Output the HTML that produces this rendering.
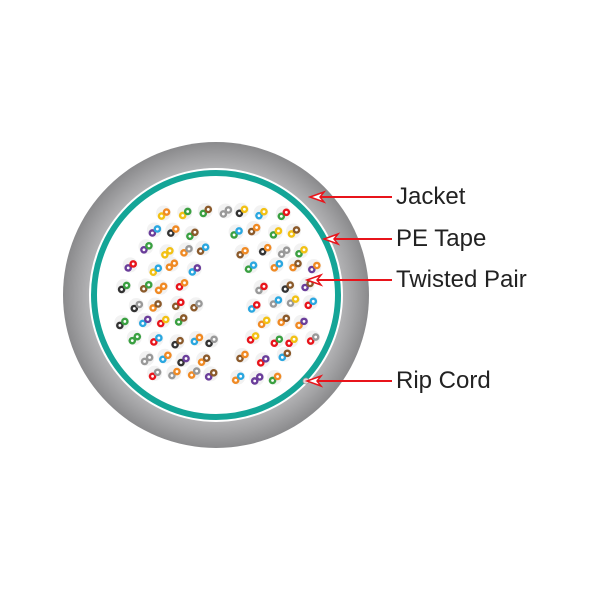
<!DOCTYPE html>
<html><head><meta charset="utf-8"><style>
html,body{margin:0;padding:0;background:#fff;width:600px;height:600px;overflow:hidden}
text{font-family:"Liberation Sans",sans-serif;fill:#222;font-size:24px}
</style></head><body>
<svg id="s" width="600" height="600" viewBox="0 0 600 600">
<defs>
<radialGradient id="g" cx="216" cy="295" r="153" gradientUnits="userSpaceOnUse">
<stop offset="0.82" stop-color="#b4b4b6"/><stop offset="0.9" stop-color="#a2a2a4"/><stop offset="1" stop-color="#8a8a8c"/>
</radialGradient>
</defs>
<circle cx="216" cy="295" r="153" fill="url(#g)"/>
<circle cx="216" cy="295" r="127" fill="#fff"/>
<circle cx="216" cy="295" r="122" fill="none" stroke="#14a597" stroke-width="6"/>
<g id="p"></g>
<circle cx="306" cy="381" r="3" fill="#ddd" stroke="#999" stroke-width="0.8"/>
<g stroke="#e8141b" stroke-width="2" fill="#fff">
<line x1="312" y1="197" x2="392" y2="197"/><path d="M310 197 L324 192 L320 197 L324 202 Z" fill="#fff" stroke-width="1.5"/>
<line x1="326" y1="239" x2="392" y2="239"/><path d="M324 239 L338 234 L334 239 L338 244 Z" fill="#fff" stroke-width="1.5"/>
<line x1="309" y1="280" x2="392" y2="280"/><path d="M307 280 L321 275 L317 280 L321 285 Z" fill="#fff" stroke-width="1.5"/>
<line x1="309" y1="381" x2="392" y2="381"/><path d="M307 381 L321 376 L317 381 L321 386 Z" fill="#fff" stroke-width="1.5"/>
</g>
<text x="396" y="204">Jacket</text>
<text x="396" y="246">PE Tape</text>
<text x="396" y="287">Twisted Pair</text>
<text x="396" y="388">Rip Cord</text>
</svg>
<script>
var cols=["#f08a24","#2aa7e0","#3aa041","#8b5a2b","#999","#e8141b","#6a3d9a","#f2c114","#333"];
var seed=7;function r(){seed=(seed*9301+49297)%233280;return seed/233280;}
var g=document.getElementById("p"),h="";
for(var y=214;y<380;y+=18){for(var x=122;x<312;x+=20){
 var px=x+(r()-0.5)*8+((Math.round(y/18))%2)*10,py=y+(r()-0.5)*6;
 var dx=px-216,dy=py-295;if(dx*dx+dy*dy>105*105)continue;
 var ex=px-222,ey=py-292;if(Math.abs(ex)<26&&Math.abs(ey)<34)continue;
 if(Math.abs(ex)<10&&Math.abs(ey)<75)continue;
 var a=cols[Math.floor(r()*8)],b=cols[Math.floor(r()*9)];
 h+='<circle cx="'+(px+2)+'" cy="'+(py-1)+'" r="7.5" fill="#f2f2f2"/>';
 h+='<circle cx="'+px+'" cy="'+(py+2)+'" r="3.8" fill="'+b+'"/><circle cx="'+px+'" cy="'+(py+2)+'" r="1.4" fill="#fff"/>';
 h+='<circle cx="'+(px+5)+'" cy="'+(py-2)+'" r="3.8" fill="'+a+'"/><circle cx="'+(px+5)+'" cy="'+(py-2)+'" r="1.4" fill="#fff"/>';
}}
g.innerHTML=h;
</script>
</body></html>
